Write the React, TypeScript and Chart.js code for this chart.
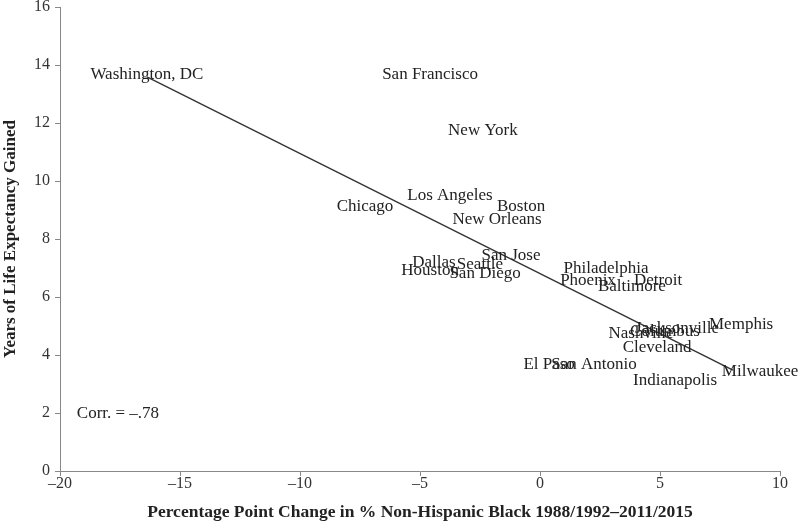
import React, { useEffect, useRef } from "react";
import { Chart, registerables } from "chart.js";

Chart.register(...registerables);

const cities = [
  "Washington, DC", "San Francisco", "New York", "Los Angeles", "Boston", "Chicago",
  "New Orleans", "San Jose", "Dallas", "Seattle", "Houston", "San Diego",
  "Philadelphia", "Phoenix", "Baltimore", "Detroit", "Memphis", "Nashville",
  "Jacksonville", "Columbus", "Cleveland", "El Paso", "San Antonio", "Milwaukee", "Indianapolis",
];
const changeBlack = [
  -16.38, -4.58, -2.38, -3.75, -0.79, -7.29,
  -1.79, -1.21, -4.42, -2.5, -4.58, -2.29,
  2.75, 2.0, 3.83, 4.92, 8.38, 4.21,
  5.71, 5.21, 4.88, 0.38, 2.25, 9.17, 5.63,
];
const yearsGained = [
  13.72, 13.72, 11.79, 9.55, 9.17, 9.17,
  8.72, 7.48, 7.21, 7.14, 6.93, 6.83,
  7.0, 6.59, 6.41, 6.59, 5.07, 4.79,
  4.93, 4.83, 4.28, 3.69, 3.72, 3.45, 3.14,
];
const fitX = [-16.38, 8.04];
const fitY = [13.59, 3.48];
const xTicks = [-20, -15, -10, -5, 0, 5, 10];
const yTicks = [0, 2, 4, 6, 8, 10, 12, 14, 16];
const corrText = "Corr. = \u2013.78";
const corrPos = [-19.3, 2.0];

const FONT = "'Liberation Serif', 'DejaVu Serif', serif";

const labelPlugin = {
  id: "cityLabels",
  afterDatasetsDraw(chart: any) {
    const ctx = chart.ctx;
    const xs = chart.scales.x;
    const ys = chart.scales.y;
    ctx.save();
    ctx.font = `17px ${FONT}`;
    ctx.fillStyle = "#222";
    ctx.textAlign = "center";
    ctx.textBaseline = "middle";
    cities.forEach((c, i) => {
      ctx.fillText(c, xs.getPixelForValue(changeBlack[i]), ys.getPixelForValue(yearsGained[i]) + 1);
    });
    ctx.textAlign = "left";
    ctx.fillText(corrText, xs.getPixelForValue(corrPos[0]), ys.getPixelForValue(corrPos[1]) + 1);
    ctx.restore();
  },
};

export default function App() {
  const ref = useRef<HTMLCanvasElement | null>(null);
  useEffect(() => {
    if (!ref.current) return;
    const chart = new Chart(ref.current, {
      type: "scatter",
      data: {
        datasets: [
          {
            data: changeBlack.map((x, i) => ({ x, y: yearsGained[i] })),
            pointRadius: 0,
            pointHoverRadius: 0,
            showLine: false,
          },
          {
            data: fitX.map((x, i) => ({ x, y: fitY[i] })),
            showLine: true,
            borderColor: "#333",
            borderWidth: 1.4,
            pointRadius: 0,
          },
        ],
      },
      options: {
        responsive: false,
        animation: false,
        plugins: { legend: { display: false }, tooltip: { enabled: false } },
        layout: { padding: { left: 0, right: 20, top: 7, bottom: 0 } },
        scales: {
          x: {
            type: "linear",
            min: -20,
            max: 10,
            afterBuildTicks: (s: any) => { s.ticks = xTicks.map((v) => ({ value: v })); },
            afterFit: (s: any) => { s.height = 54; s.paddingLeft = 0; s.paddingRight = 0; },
            ticks: {
              color: "#333",
              font: { family: FONT, size: 16 },
              padding: -2,
              callback: (v: any) => String(v).replace("-", "\u2013"),
            },
            grid: { display: true, drawOnChartArea: false, drawTicks: true, tickLength: 5, color: "#888" },
            border: { color: "#888" },
            title: {
              display: true,
              text: "Percentage Point Change in % Non-Hispanic Black 1988/1992\u20132011/2015",
              color: "#222",
              font: { family: FONT, size: 17.5, weight: "bold" },
              padding: { top: 0, bottom: 2 },
            },
          },
          y: {
            type: "linear",
            min: 0,
            max: 16,
            afterBuildTicks: (s: any) => { s.ticks = yTicks.map((v) => ({ value: v })); },
            afterFit: (s: any) => { s.width = 60; s.paddingTop = 0; s.paddingBottom = 0; },
            ticks: {
              color: "#333",
              font: { family: FONT, size: 16 },
              padding: 5,
            },
            grid: { display: true, drawOnChartArea: false, drawTicks: true, tickLength: 5, color: "#888" },
            border: { color: "#888" },
            title: {
              display: true,
              text: "Years of Life Expectancy Gained",
              color: "#222",
              font: { family: FONT, size: 17, weight: "bold" },
              padding: { top: 0, bottom: 0 },
            },
          },
        },
      },
      plugins: [labelPlugin],
    });
    return () => chart.destroy();
  }, []);
  return (
    <div style={{ position: "absolute", left: 0, top: 0, width: 800, height: 525, background: "#fff" }}>
      <canvas ref={ref} width={800} height={525} />
    </div>
  );
}
